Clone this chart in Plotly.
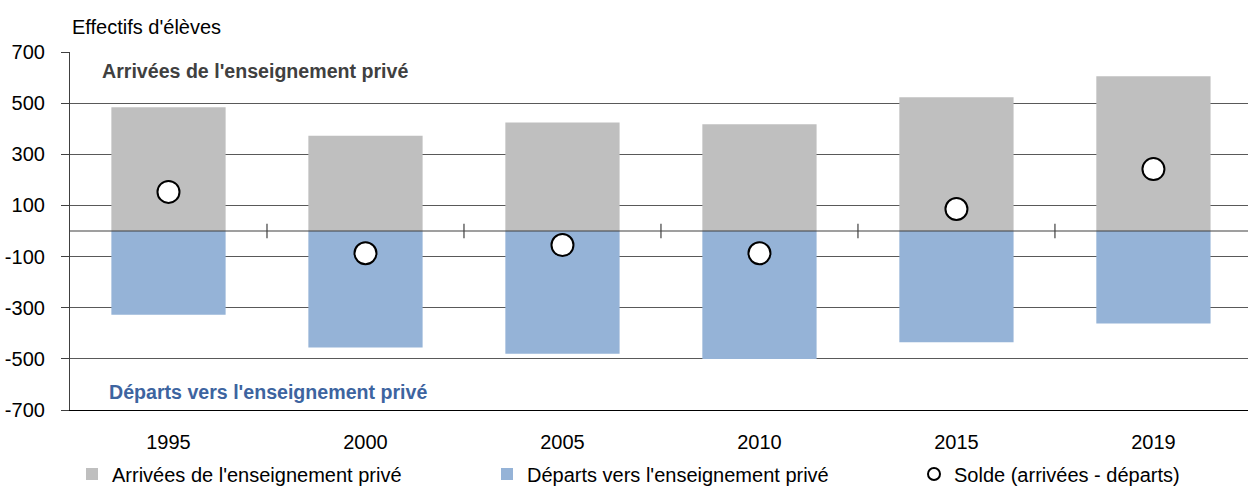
import plotly.graph_objects as go

years = ["1995", "2000", "2005", "2010", "2015", "2019"]
arrivees = [484, 372, 424, 417, 523, 605]
departs = [-328, -456, -480, -501, -435, -362]
solde = [153, -87, -55, -87, 86, 242]

y_ticks = [-700, -500, -300, -100, 100, 300, 500, 700]

FONT = "Liberation Sans, Arial, sans-serif"
W, H = 1248, 487

fig = go.Figure()
fig.add_trace(go.Bar(
    x=years, y=arrivees, name="Arrivées de l'enseignement privé",
    marker=dict(color="#BFBFBF", line=dict(width=0)), width=0.58,
    legend="legend",
))
fig.add_trace(go.Bar(
    x=years, y=departs, name="Départs vers l'enseignement privé",
    marker=dict(color="#95B3D7", line=dict(width=0)), width=0.58,
    legend="legend2",
))
fig.add_trace(go.Scatter(
    x=years, y=solde, name="Solde (arrivées - départs)", mode="markers",
    marker=dict(symbol="circle", size=22, color="white",
                line=dict(color="black", width=2)),
    legend="legend3",
))

# zero line with cross ticks at category boundaries
shapes = [dict(type="line", xref="paper", yref="y", x0=0, x1=1, y0=0, y1=0,
               line=dict(color="#404040", width=1.2), layer="above")]
for i in range(len(years) - 1):
    shapes.append(dict(type="line", xref="x", yref="y", x0=i + 0.5, x1=i + 0.5,
                       y0=-28, y1=28, line=dict(color="#404040", width=1.2),
                       layer="above"))


def leg(xpx):
    return dict(orientation="h", xref="container", yref="container",
                x=xpx / W, xanchor="left", y=(H - 474) / H, yanchor="middle",
                font=dict(family=FONT, size=20, color="black"),
                bgcolor="rgba(0,0,0,0)", itemsizing="constant")


fig.update_layout(
    width=W, height=H, autosize=False,
    margin=dict(l=70, r=0, t=52, b=77, autoexpand=False),
    paper_bgcolor="white", plot_bgcolor="white",
    font=dict(family=FONT, size=20, color="black"),
    barmode="relative",
    showlegend=True,
    legend=leg(72),
    legend2=leg(487),
    legend3=leg(914),
    shapes=shapes,
    annotations=[
        dict(text="Effectifs d'élèves", xref="paper", yref="paper", x=0, y=1,
             xanchor="left", yanchor="bottom", yshift=12, showarrow=False,
             font=dict(family=FONT, size=20, color="black")),
        dict(text="<b>Arrivées de l'enseignement privé</b>", xref="paper", yref="y",
             x=30 / 1178, y=625, xanchor="left", yanchor="middle", showarrow=False,
             font=dict(family=FONT, size=19.6, color="#404040")),
        dict(text="<b>Départs vers l'enseignement privé</b>", xref="paper", yref="y",
             x=37 / 1178, y=-629, xanchor="left", yanchor="middle", showarrow=False,
             font=dict(family=FONT, size=19.6, color="#3D64A0")),
    ],
)

fig.update_xaxes(
    type="category", range=[-0.5, 5.48], showgrid=False, zeroline=False,
    showline=True, linecolor="black", linewidth=1.2, ticks="",
    ticklabelstandoff=14, automargin=False,
    tickfont=dict(family=FONT, size=20, color="black"),
)
fig.update_yaxes(
    range=[-700, 700], tickvals=y_ticks, ticktext=[str(v) for v in y_ticks],
    showgrid=True, gridcolor="#595959", gridwidth=1, zeroline=False,
    showline=True, linecolor="#404040", linewidth=1.2,
    ticks="outside", ticklen=8, tickcolor="#404040", tickwidth=1.2,
    ticklabelstandoff=12, automargin=False,
    tickfont=dict(family=FONT, size=20, color="black"),
)

fig.write_html(
    "out.html",
    config={"displayModeBar": False},
    post_script="document.body.style.margin='0';document.body.style.overflow='hidden';",
)
